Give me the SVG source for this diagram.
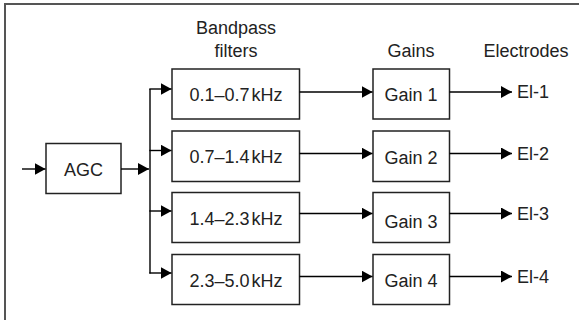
<svg xmlns="http://www.w3.org/2000/svg" width="579" height="320" viewBox="0 0 579 320">
<defs>
<marker id="ah" markerWidth="11" markerHeight="12" refX="11" refY="6" orient="auto" markerUnits="userSpaceOnUse">
<path d="M0,0 L11,6 L0,12 Z" fill="#000"/>
</marker>
<style>
.box{fill:#fff;stroke:#222;stroke-width:1.5}
.t{font-family:"Liberation Sans",Arial,sans-serif;font-size:18px;fill:#222;text-anchor:middle}
.ts{font-family:"Liberation Sans",Arial,sans-serif;font-size:18px;fill:#222}
.c{fill:none;stroke:#000;stroke-width:1.4;marker-end:url(#ah)}
.frame{fill:none;stroke:#555;stroke-width:2}
</style>
</defs>
<rect x="0" y="0" width="579" height="320" fill="#fff"/>
<path class="frame" d="M5,320 V4 H579"/>
<g id="headers">
<text class="t" x="236" y="33.5">Bandpass</text>
<text class="t" x="236" y="57">filters</text>
<text class="t" x="411" y="57">Gains</text>
<text class="t" x="526" y="57">Electrodes</text>
</g>
<g id="agc"><rect class="box" x="46" y="143.5" width="75" height="50"/><text class="t" x="83.5" y="175.5">AGC</text></g>
<g id="f1"><rect class="box" x="172" y="69" width="127.5" height="50"/><text class="t" x="236" y="101">0.1–0.7<tspan dx="2">kHz</tspan></text></g>
<g id="f2"><rect class="box" x="172" y="131" width="127.5" height="50.5"/><text class="t" x="236" y="163">0.7–1.4<tspan dx="2">kHz</tspan></text></g>
<g id="f3"><rect class="box" x="172" y="192.5" width="127.5" height="50"/><text class="t" x="236" y="225">1.4–2.3<tspan dx="2">kHz</tspan></text></g>
<g id="f4"><rect class="box" x="172" y="254.5" width="127.5" height="50"/><text class="t" x="236" y="286.5">2.3–5.0<tspan dx="2">kHz</tspan></text></g>
<g id="g1"><rect class="box" x="373" y="69" width="76.5" height="50"/><text class="t" x="411" y="101">Gain 1</text></g>
<g id="g2"><rect class="box" x="373" y="131" width="76.5" height="50.5"/><text class="t" x="411" y="164">Gain 2</text></g>
<g id="g3"><rect class="box" x="373" y="192.5" width="76.5" height="50"/><text class="t" x="411" y="227.5">Gain 3</text></g>
<g id="g4"><rect class="box" x="373" y="254.5" width="76.5" height="50"/><text class="t" x="411" y="286.5">Gain 4</text></g>
<g id="e1"><text class="ts" x="517" y="98">El-1</text></g>
<g id="e2"><text class="ts" x="517" y="159.5">El-2</text></g>
<g id="e3"><text class="ts" x="517" y="219.5">El-3</text></g>
<g id="e4"><text class="ts" x="517" y="282.5">El-4</text></g>
<g id="connectors">
<path class="c" d="M22,169 H45.5"/>
<path class="c" d="M121,169 H149"/>
<path d="M150,89 V273.5" fill="none" stroke="#000" stroke-width="1.4"/>
<path class="c" d="M149.3,89 H171.5"/>
<path class="c" d="M149.3,150.5 H171.5"/>
<path class="c" d="M149.3,211 H171.5"/>
<path class="c" d="M149.3,273 H171.5"/>
<path class="c" d="M299.5,92 H372.5"/>
<path class="c" d="M299.5,153.5 H372.5"/>
<path class="c" d="M299.5,213.5 H372.5"/>
<path class="c" d="M299.5,276.5 H372.5"/>
<path class="c" d="M449.5,92 H512"/>
<path class="c" d="M449.5,153.5 H512"/>
<path class="c" d="M449.5,213.5 H512"/>
<path class="c" d="M449.5,276.5 H512"/>
</g>
</svg>
